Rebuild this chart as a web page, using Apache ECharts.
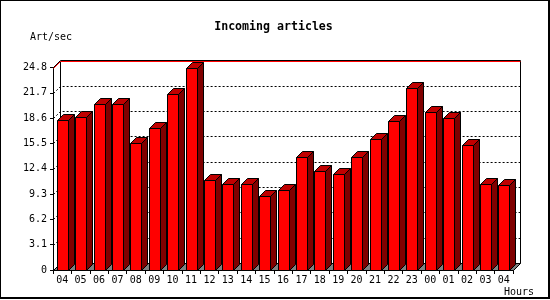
<!DOCTYPE html>
<html>
<head>
<meta charset="utf-8">
<script src="https://cdn.jsdelivr.net/npm/echarts@6/dist/echarts.min.js"></script>
<style>
html,body{margin:0;padding:0;background:#fff;}
#chart{width:550px;height:300px;}
</style>
</head>
<body>
<div id="chart"></div>
<script>
const hours = ['04','05','06','07','08','09','10','11','12','13','14','15','16','17','18','19','20','21','22','23','00','01','02','03','04'];
const artPerSec = [18.4,18.7,20.3,20.3,15.5,17.4,21.6,24.7,11.0,10.5,10.5,9.1,9.8,13.9,12.1,11.7,13.9,16.1,18.3,22.3,19.4,18.6,15.3,10.5,10.4];
const yTickLabels = ['0','3.1','6.2','9.3','12.4','15.5','18.6','21.7','24.8'];
const yStep = 3.1;
const yMax = 24.8;
const titleText = 'Incoming articles';
const yUnit = 'Art/sec';
const xUnit = 'Hours';

const MONO = '"DejaVu Sans Mono", "Liberation Mono", monospace';
const PD = 7;   // plane depth
const BD = 6;   // bar depth

const chart = echarts.init(document.getElementById('chart'), null, {renderer: 'canvas'});

const gridVals = yTickLabels.map(function (t) { return [0, parseFloat(t)]; })
  .filter(function (d) { return d[1] > 0 && d[1] < yMax; });

function renderGrid(params, api) {
  const cs = params.coordSys;
  const p = api.coord([0, api.value(1)]);
  const y = Math.round(p[1]) + 0.5;
  const x0 = cs.x + 0.5, x1 = cs.x + cs.width + 0.5;
  return {
    type: 'group',
    children: [
      {type: 'polyline', shape: {points: [[x0, y], [x0 + PD, y - PD], [x1 + PD, y - PD]]},
       style: {stroke: '#000', lineWidth: 1, lineDash: [2, 2], fill: null}}
    ]
  };
}

function renderFrame(params, api) {
  const cs = params.coordSys;
  const x0 = cs.x + 0.5, x1 = cs.x + cs.width + 0.5;
  const yb = Math.round(api.coord([0, 0])[1]) + 0.5;
  const yt = Math.round(api.coord([0, api.value(1)])[1]) + 0.5;
  return {
    type: 'group',
    children: [
      {type: 'polygon', shape: {points: [[x0, yb], [x1, yb], [x1 + PD, yb - PD], [x0 + PD, yb - PD]]},
       style: {fill: '#808080', stroke: '#000', lineWidth: 1}},
      {type: 'line', shape: {x1: x0 + PD, y1: yt - PD, x2: x0 + PD, y2: yb - PD}, style: {stroke: '#000', lineWidth: 1}},
      {type: 'line', shape: {x1: x1 + PD, y1: yt - PD - 1, x2: x1 + PD, y2: yb - PD}, style: {stroke: '#000', lineWidth: 1}},
      {type: 'polyline', shape: {points: [[x0, yt - 1], [x0 + PD, yt - PD - 1], [x1 + PD, yt - PD - 1]]},
       style: {stroke: '#000', lineWidth: 1, fill: null}},
      {type: 'polyline', shape: {points: [[x0, yt], [x0 + PD, yt - PD], [x1 + PD, yt - PD]]},
       style: {stroke: '#ff0000', lineWidth: 1, fill: null}}
    ]
  };
}

function renderBar(params, api) {
  const i = api.value(0), v = api.value(1);
  const top = api.coord([i, v]);
  const base = api.coord([i, 0]);
  const w = Math.round(api.size([1, 0])[0] * 0.6);
  const xl = Math.round(top[0] - w / 2) + 0.5, xr = xl + w;
  const yt = Math.round(top[1]) + 0.5, yb = Math.round(base[1]) + 0.5;
  const st = {stroke: '#000', lineWidth: 1};
  return {
    type: 'group',
    children: [
      {type: 'polygon', shape: {points: [[xr, yt], [xr + BD, yt - BD], [xr + BD, yb - BD], [xr, yb]]},
       style: Object.assign({fill: '#800000'}, st)},
      {type: 'polygon', shape: {points: [[xl, yt], [xl + BD, yt - BD], [xr + BD, yt - BD], [xr, yt]]},
       style: Object.assign({fill: '#c00000'}, st)},
      {type: 'rect', shape: {x: xl, y: yt, width: w, height: yb - yt},
       style: Object.assign({fill: '#ff0000'}, st)}
    ]
  };
}

const option = {
  animation: false,
  backgroundColor: '#fff',
  grid: {left: 53, right: 37, top: 67.5, bottom: 30, containLabel: false},
  xAxis: {
    type: 'category',
    data: hours,
    boundaryGap: true,
    axisLine: {show: true, lineStyle: {color: '#000', width: 1}},
    axisTick: {show: true, length: 4, interval: 0, lineStyle: {color: '#000'}},
    axisLabel: {interval: 0, margin: 5, color: '#000', fontFamily: MONO, fontSize: 10},
    splitLine: {show: false}
  },
  yAxis: {
    type: 'value',
    min: 0, max: yMax, interval: yStep,
    axisLine: {show: true, lineStyle: {color: '#000', width: 1}},
    axisTick: {show: true, length: 3, lineStyle: {color: '#000'}},
    axisLabel: {
      margin: 6, color: '#000', fontFamily: MONO, fontSize: 10,
      formatter: function (v) { return yTickLabels[Math.round(v / yStep)]; }
    },
    splitLine: {show: false}
  },
  graphic: [
    {type: 'rect', shape: {x: 0, y: 0, width: 549, height: 298}, style: {fill: null, stroke: '#000', lineWidth: 2}, z: 100},
    {type: 'text', x: 273.5, y: 27, style: {text: titleText, font: 'bold 11.6px ' + MONO, fill: '#000', textAlign: 'center', textVerticalAlign: 'middle'}},
    {type: 'text', x: 30, y: 37, style: {text: yUnit, font: '10px ' + MONO, fill: '#000', textAlign: 'left', textVerticalAlign: 'middle'}},
    {type: 'text', x: 504, y: 292, style: {text: xUnit, font: '10px ' + MONO, fill: '#000', textAlign: 'left', textVerticalAlign: 'middle'}}
  ],
  series: [
    {type: 'custom', renderItem: renderGrid, data: gridVals, silent: true, clip: false},
    {type: 'custom', renderItem: renderFrame, data: [[0, yMax]], silent: true, clip: false},
    {type: 'custom', renderItem: renderBar, data: artPerSec.map(function (v, i) { return [i, v]; }), silent: true, clip: false}
  ]
};
chart.setOption(option);
</script>
</body>
</html>
